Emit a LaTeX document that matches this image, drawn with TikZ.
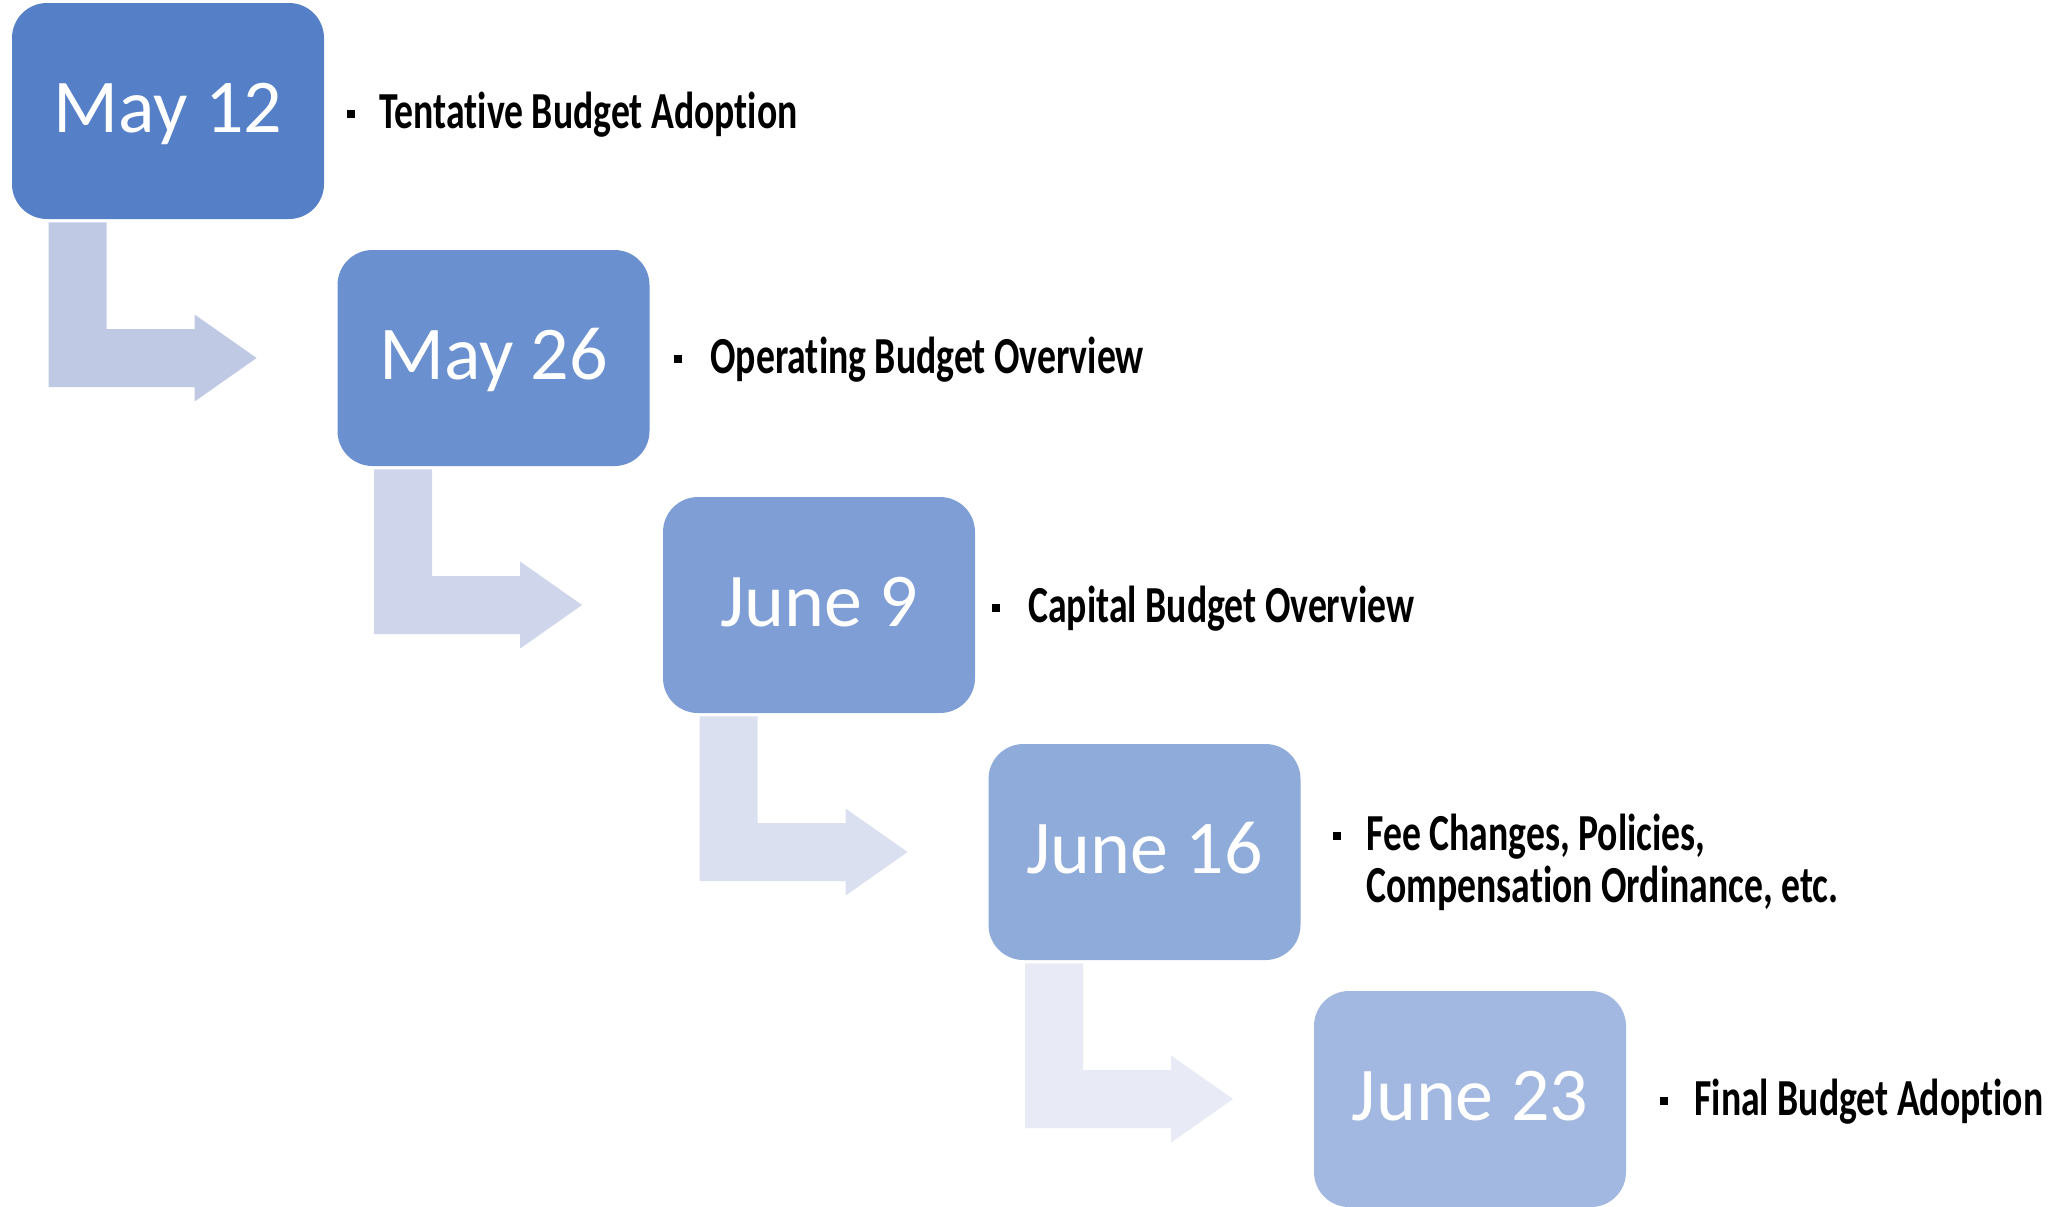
\documentclass[tikz,border=0pt]{standalone}
\usepackage{fontspec}
\setmainfont{Carlito}[Ligatures=NoCommon]
\usepackage{graphicx}
\usetikzlibrary{calc}
\definecolor{c1}{RGB}{85,128,200}
\definecolor{c2}{RGB}{106,144,207}
\definecolor{c3}{RGB}{126,158,213}
\definecolor{c4}{RGB}{143,171,218}
\definecolor{c5}{RGB}{162,184,224}
\definecolor{a1}{RGB}{191,201,228}
\definecolor{a2}{RGB}{207,214,235}
\definecolor{a3}{RGB}{218,224,240}
\definecolor{a4}{RGB}{232,235,245}
\tikzset{
 datebox/.style={rectangle, rounded corners=17.5pt, minimum width=156pt, minimum height=108pt,
   inner sep=0pt, text=white, font=\fontsize{38}{40}\selectfont, text height=25pt, text depth=4pt},
 lbl/.style={anchor=base west, inner sep=0pt, font=\fontsize{26}{26}\selectfont\bfseries},
 bulletsq/.style={fill=black, minimum size=4pt, inner sep=0pt}
}
\newcommand\bendarrow[3]{%
 \fill[#3] let \p1=(#1.south west), \p2=(#2.west) in
 (\x1+18.5pt,\y1-1.5pt) -- (\x1+47.5pt,\y1-1.5pt) -- (\x1+47.5pt,\y2+14.5pt)
 -- (\x1+91.5pt,\y2+14.5pt) -- (\x1+91.5pt,\y2+21.75pt) -- (\x2-40.25pt,\y2)
 -- (\x1+91.5pt,\y2-21.75pt) -- (\x1+91.5pt,\y2-14.5pt) -- (\x1+18.5pt,\y2-14.5pt) -- cycle;}
\newcommand\lblscale[1]{\scalebox{0.725}[1]{#1}}
\begin{document}
\begin{tikzpicture}[x=0.5pt,y=-0.5pt]
\useasboundingbox (0,0) rectangle (2066,1206);
\node[datebox, fill=c1] (d1) at (168,111) {May 12};
\node[datebox, fill=c2] (d2) at (493.5,358) {May 26};
\node[datebox, fill=c3] (d3) at (819,605) {June 9};
\node[datebox, fill=c4] (d4) at (1144.5,852) {June 16};
\node[datebox, fill=c5] (d5) at (1470,1099) {June 23};
\bendarrow{d1}{d2}{a1}
\bendarrow{d2}{d3}{a2}
\bendarrow{d3}{d4}{a3}
\bendarrow{d4}{d5}{a4}
\node[bulletsq] (b1) at (351,114) {};
\node[bulletsq] (b2) at (677.5,359) {};
\node[bulletsq] (b3) at (996,608) {};
\node[bulletsq] (b4) at (1337,836) {};
\node[bulletsq] (b5) at (1664,1101) {};
\node[lbl] (l1) at (379,128) {\lblscale{Tentative Budget Adoption}};
\node[lbl] (l2) at (710,373) {\lblscale{Operating Budget Overview}};
\node[lbl] (l3) at (1028,622) {\lblscale{Capital Budget Overview}};
\node[lbl] (l4) at (1366,850) {\lblscale{\begin{tabular}[t]{@{}l@{}}Fee Changes, Policies,\\Compensation Ordinance, etc.\end{tabular}}};
\node[lbl] (l5) at (1694,1115) {\lblscale{Final Budget Adoption}};
\end{tikzpicture}
\end{document}
